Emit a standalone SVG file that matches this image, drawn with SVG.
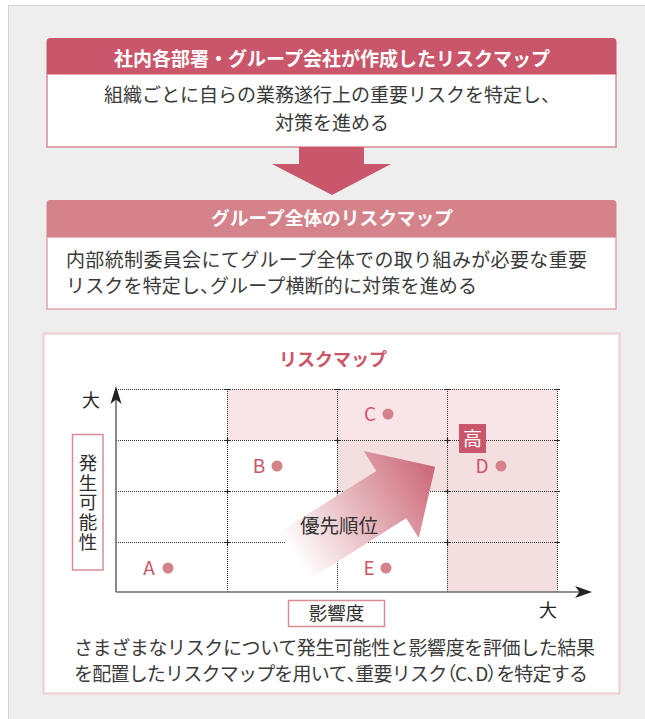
<svg xmlns="http://www.w3.org/2000/svg" width="645" height="719" viewBox="0 0 645 719">
<defs>
<style>
.jp{font-family:"Noto Sans CJK JP","Noto Sans",sans-serif;}
.hd{font-weight:bold;fill:#ffffff;text-anchor:middle;}
.bd{font-size:19px;fill:#3a3a3a;}
.p{font-feature-settings:"palt" 1;}
.grid{stroke:#333333;stroke-width:1;stroke-dasharray:1 1;fill:none;}
.tick{stroke:#222222;stroke-width:1.2;}
.lt{font-size:19px;fill:#c9566a;text-anchor:middle;}
.dot{fill:#d4838a;}
.ax{stroke:#6b6b6b;stroke-width:1.6;fill:none;}
</style>
<linearGradient id="pg" gradientUnits="userSpaceOnUse" x1="0" y1="0" x2="167" y2="0">
<stop offset="0" stop-color="#ffffff"/>
<stop offset="1" stop-color="#cb6675"/>
</linearGradient>
</defs>
<rect x="0" y="0" width="645" height="719" fill="#ffffff"/>
<rect x="8.5" y="5.5" width="640" height="720" fill="#eeeeee" stroke="#d6d6d6" stroke-width="1"/>

<g id="box1">
<rect x="47" y="74" width="569" height="73" fill="#ffffff" stroke="#d98c96" stroke-width="1.5"/>
<path d="M46.5,74 V42 a4,4 0 0 1 4,-4 H612.5 a4,4 0 0 1 4,4 V74 Z" fill="#c9566a"/>
<text class="jp hd" x="332" y="65.5" font-size="19px">社内各部署・グループ会社が作成したリスクマップ</text>
<text class="jp bd" x="332" y="102" text-anchor="middle">組織ごとに自らの業務遂行上の重要リスクを特定し、</text>
<text class="jp bd" x="332" y="129.5" text-anchor="middle">対策を進める</text>
</g>

<g id="flow-arrow">
<polygon points="299,147 364,147 364,164 391,164 332,195 272,164 299,164" fill="#c9566a"/>
</g>

<g id="box2">
<rect x="47" y="237" width="569" height="72" fill="#ffffff" stroke="#e3a3a9" stroke-width="1.5"/>
<path d="M46.5,237 V204 a4,4 0 0 1 4,-4 H612.5 a4,4 0 0 1 4,4 V237 Z" fill="#d4838a"/>
<text class="jp hd" x="332" y="225" font-size="18.7px">グループ全体のリスクマップ</text>
<text class="jp bd" x="66" y="267" textLength="521" lengthAdjust="spacing">内部統制委員会にてグループ全体での取り組みが必要な重要</text>
<text class="jp bd" x="66" y="292.5" textLength="411" lengthAdjust="spacing">リスクを特定し<tspan class="p">、</tspan>グループ横断的に対策を進める</text>
</g>

<g id="riskmap">
<rect x="43.5" y="333.5" width="576" height="360" fill="#ffffff" stroke="#f1cccc" stroke-width="2"/>
<text class="jp" x="333" y="366" font-size="18px" font-weight="bold" fill="#c9566a" text-anchor="middle">リスクマップ</text>

<rect x="227" y="389" width="330" height="51" fill="#f9e5e7"/>
<rect x="337" y="440" width="110" height="51" fill="#f3dfe0"/>
<rect x="447" y="440" width="110" height="152" fill="#f3dfe0"/>

<g id="grid">
<path class="grid" d="M116,389.5 H557 M116,440.5 H557 M116,491.5 H557 M116,542.5 H557 M227.5,389 V592 M337.5,389 V592 M447.5,389 V592 M557.5,389 V592"/>
<path class="tick" d="M225,440.5 h5 M227.5,438 v5 M335,440.5 h5 M337.5,438 v5 M445,440.5 h5 M447.5,438 v5 M555,440.5 h5 M225,491.5 h5 M227.5,489 v5 M335,491.5 h5 M337.5,489 v5 M445,491.5 h5 M447.5,489 v5 M555,491.5 h5 M225,542.5 h5 M227.5,540 v5 M335,542.5 h5 M337.5,540 v5 M445,542.5 h5 M447.5,540 v5 M555,542.5 h5 M225,389.5 h5 M335,389.5 h5 M445,389.5 h5 M555,389.5 h5"/>
</g>

<g id="priority-arrow" transform="translate(294,556) rotate(-32.3)">
<polygon points="0,-28 115,-28 115,-51.5 167,0 115,51.5 115,28 0,28" fill="url(#pg)"/>
</g>
<text class="jp" x="339" y="533" font-size="19.5px" fill="#333333" text-anchor="middle">優先順位</text>

<g id="axes">
<path class="ax" d="M116,592 V396"/>
<path class="ax" d="M116,592 H582"/>
<polygon points="116,386 121.5,404 116,399.5 110.5,404" fill="#222222"/>
<polygon points="592,592 575,598 579.5,592 575,586" fill="#222222"/>
</g>

<text class="jp" x="91" y="406.5" font-size="18px" fill="#222222" text-anchor="middle">大</text>
<text class="jp" x="548" y="617" font-size="18px" fill="#222222" text-anchor="middle">大</text>

<g id="label-y">
<rect x="72.5" y="434.5" width="30.5" height="135.5" fill="#ffffff" stroke="#d98c96" stroke-width="1.5"/>
<text class="jp" x="88" y="453.5" font-size="18.5px" fill="#2e2e2e" writing-mode="vertical-rl" letter-spacing="1.3">発生可能性</text>
</g>

<g id="label-x">
<rect x="288.5" y="600.5" width="96" height="26" fill="#ffffff" stroke="#d98c96" stroke-width="1.5"/>
<text class="jp" x="336.5" y="620" font-size="18.5px" fill="#2e2e2e" text-anchor="middle">影響度</text>
</g>

<g id="pt-A"><text class="jp lt" x="149" y="575">A</text><circle class="dot" cx="168" cy="568" r="5.5"/></g>
<g id="pt-B"><text class="jp lt" x="259" y="473">B</text><circle class="dot" cx="277" cy="466" r="5.5"/></g>
<g id="pt-C"><text class="jp lt" x="370" y="421">C</text><circle class="dot" cx="388" cy="414" r="5.5"/></g>
<g id="pt-D"><text class="jp lt" x="482" y="473">D</text><circle class="dot" cx="501" cy="466" r="5.5"/></g>
<g id="pt-E"><text class="jp lt" x="369" y="575">E</text><circle class="dot" cx="386" cy="568" r="5.5"/></g>

<g id="high">
<rect x="459" y="424" width="27" height="29" fill="#c9566a"/>
<text class="jp" x="472.5" y="445.5" font-size="19px" fill="#ffffff" text-anchor="middle">高</text>
</g>

<text class="jp bd" x="74" y="655" font-size="18.6px" textLength="521" lengthAdjust="spacing">さまざまなリスクについて発生可能性と影響度を評価した結果</text>
<text class="jp bd" x="74" y="681" font-size="18.6px" textLength="514" lengthAdjust="spacing">を配置したリスクマップを用いて<tspan class="p">、</tspan>重要リスク<tspan class="p">（</tspan>C<tspan class="p">、</tspan>D<tspan class="p">）</tspan>を特定する</text>
</g>
</svg>
